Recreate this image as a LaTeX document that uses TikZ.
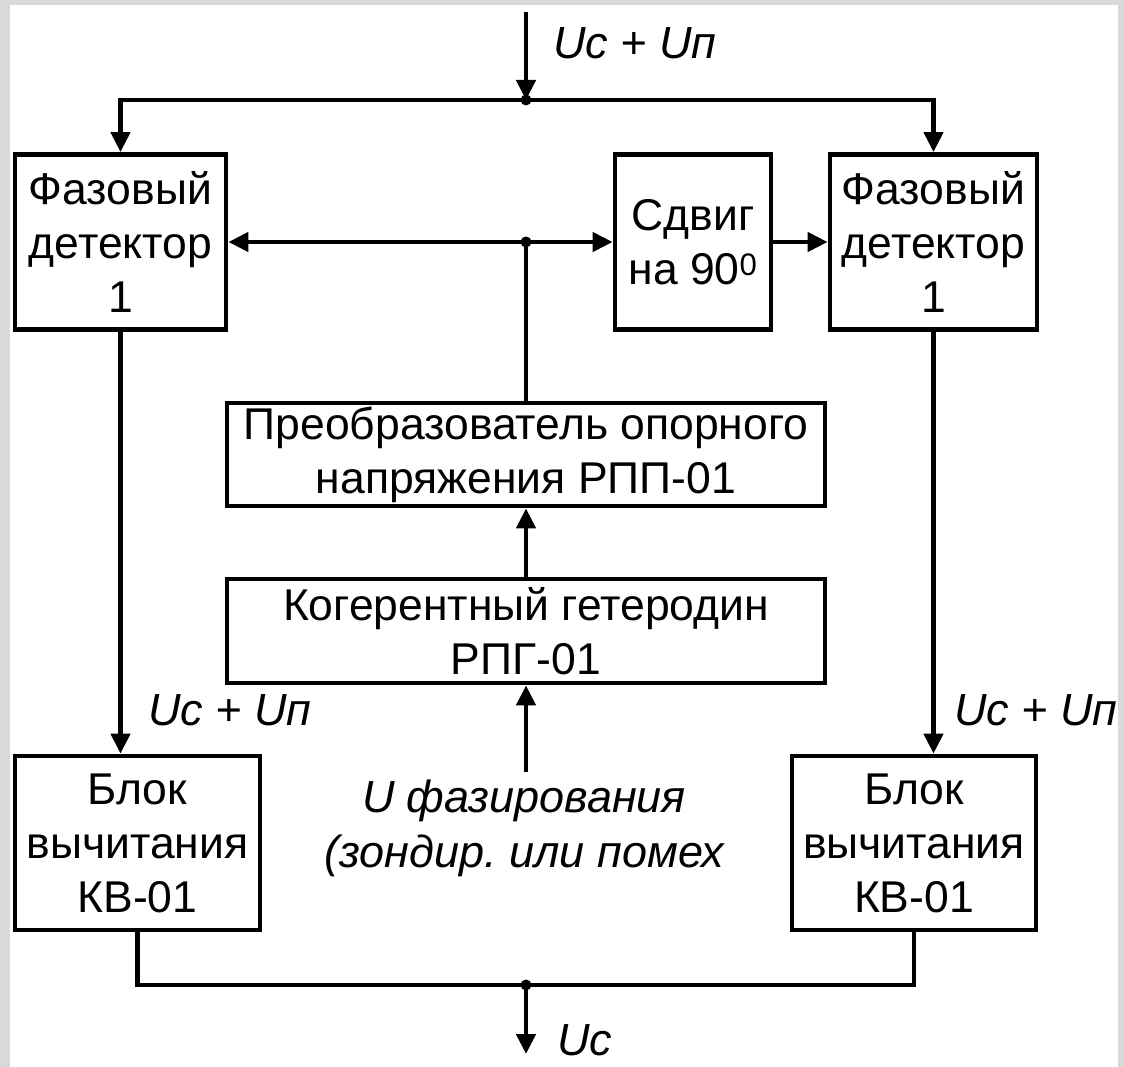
\documentclass[tikz,border=0pt]{standalone}
\usepackage{fontspec}
\setmainfont{Liberation Sans}
\usetikzlibrary{arrows.meta}
\frenchspacing
\begin{document}
\begin{tikzpicture}[x=1pt,y=-1pt,
  box/.style={draw=black,line width=4.8pt,fill=white,align=center,inner sep=0pt,
    font=\fontsize{44.5}{54}\selectfont},
  wire/.style={line width=4.8pt},
  arr/.style={line width=4.5pt,-{Triangle[length=20pt,width=19pt]}},
  lbl/.style={font=\fontsize{45}{55}\selectfont\itshape,inner sep=0pt},
  dot/.style={circle,fill=black,inner sep=0pt,minimum size=11pt}]
\fill[black!15] (0,0) rectangle (1124,1067);
\fill[white] (10,5) rectangle (1118,1067);
\useasboundingbox (0,0) rectangle (1124,1067);

\node[box,minimum width=211pt,minimum height=175pt] (fd1) at (120.5,242) {Фазовый\\детектор\\1};
\node[box,minimum width=156pt,minimum height=175pt] (shift) at (693,242) {Сдвиг\\на 90\textsuperscript{0}};
\node[box,minimum width=207pt,minimum height=175pt] (fd2) at (933.5,242) {Фазовый\\детектор\\1};
\node[box,minimum width=598pt,minimum height=103pt] (conv) at (526,454.5) {Преобразователь опорного\\напряжения РПП-01};
\node[box,minimum width=598pt,minimum height=104pt] (het) at (526,631) {Когерентный гетеродин\\РПГ-01};
\node[box,minimum width=245pt,minimum height=174pt] (sub1) at (137.5,843) {Блок\\вычитания\\КВ-01};
\node[box,minimum width=244pt,minimum height=174pt] (sub2) at (914,843) {Блок\\вычитания\\КВ-01};

\node[lbl,align=center] (ph) at (524,828) {U фазирования\\(зондир. или помех};
\node[lbl] (top) at (635,43) {Uс + Uп};
\node[lbl] (lft) at (230,710) {Uс + Uп};
\node[lbl] (rgt) at (1036,710) {Uс + Uп};
\node[lbl] (out) at (585,1040) {Uс};

\coordinate (tin) at (526,12);
\coordinate (j1) at (526,100);
\coordinate (j2) at (526,242);
\coordinate (j3) at (526,985);
\coordinate (tout) at (526,1054);
\coordinate (phin) at (526,772);

\draw[arr] (tin) -- (j1);
\draw[arr] (j1) -| (fd1.north);
\draw[arr] (j1) -| (fd2.north);
\draw[arr] (j2) -- (fd1.east);
\draw[arr] (j2) -- (shift.west);
\draw[arr] (shift.east) -- (fd2.west);
\draw[wire] (conv.north) -- (j2);
\draw[arr] (het.north) -- (conv.south);
\draw[arr] (phin) -- (het.south);
\draw[arr] (fd1.south) -- (fd1.south |- sub1.north);
\draw[arr] (fd2.south) -- (fd2.south |- sub2.north);
\draw[wire] (sub1.south) |- (j3) -| (sub2.south);
\draw[arr] (j3) -- (tout);

\node[dot] at (j1) {};
\node[dot] at (j2) {};
\node[dot] at (j3) {};
\end{tikzpicture}
\end{document}
